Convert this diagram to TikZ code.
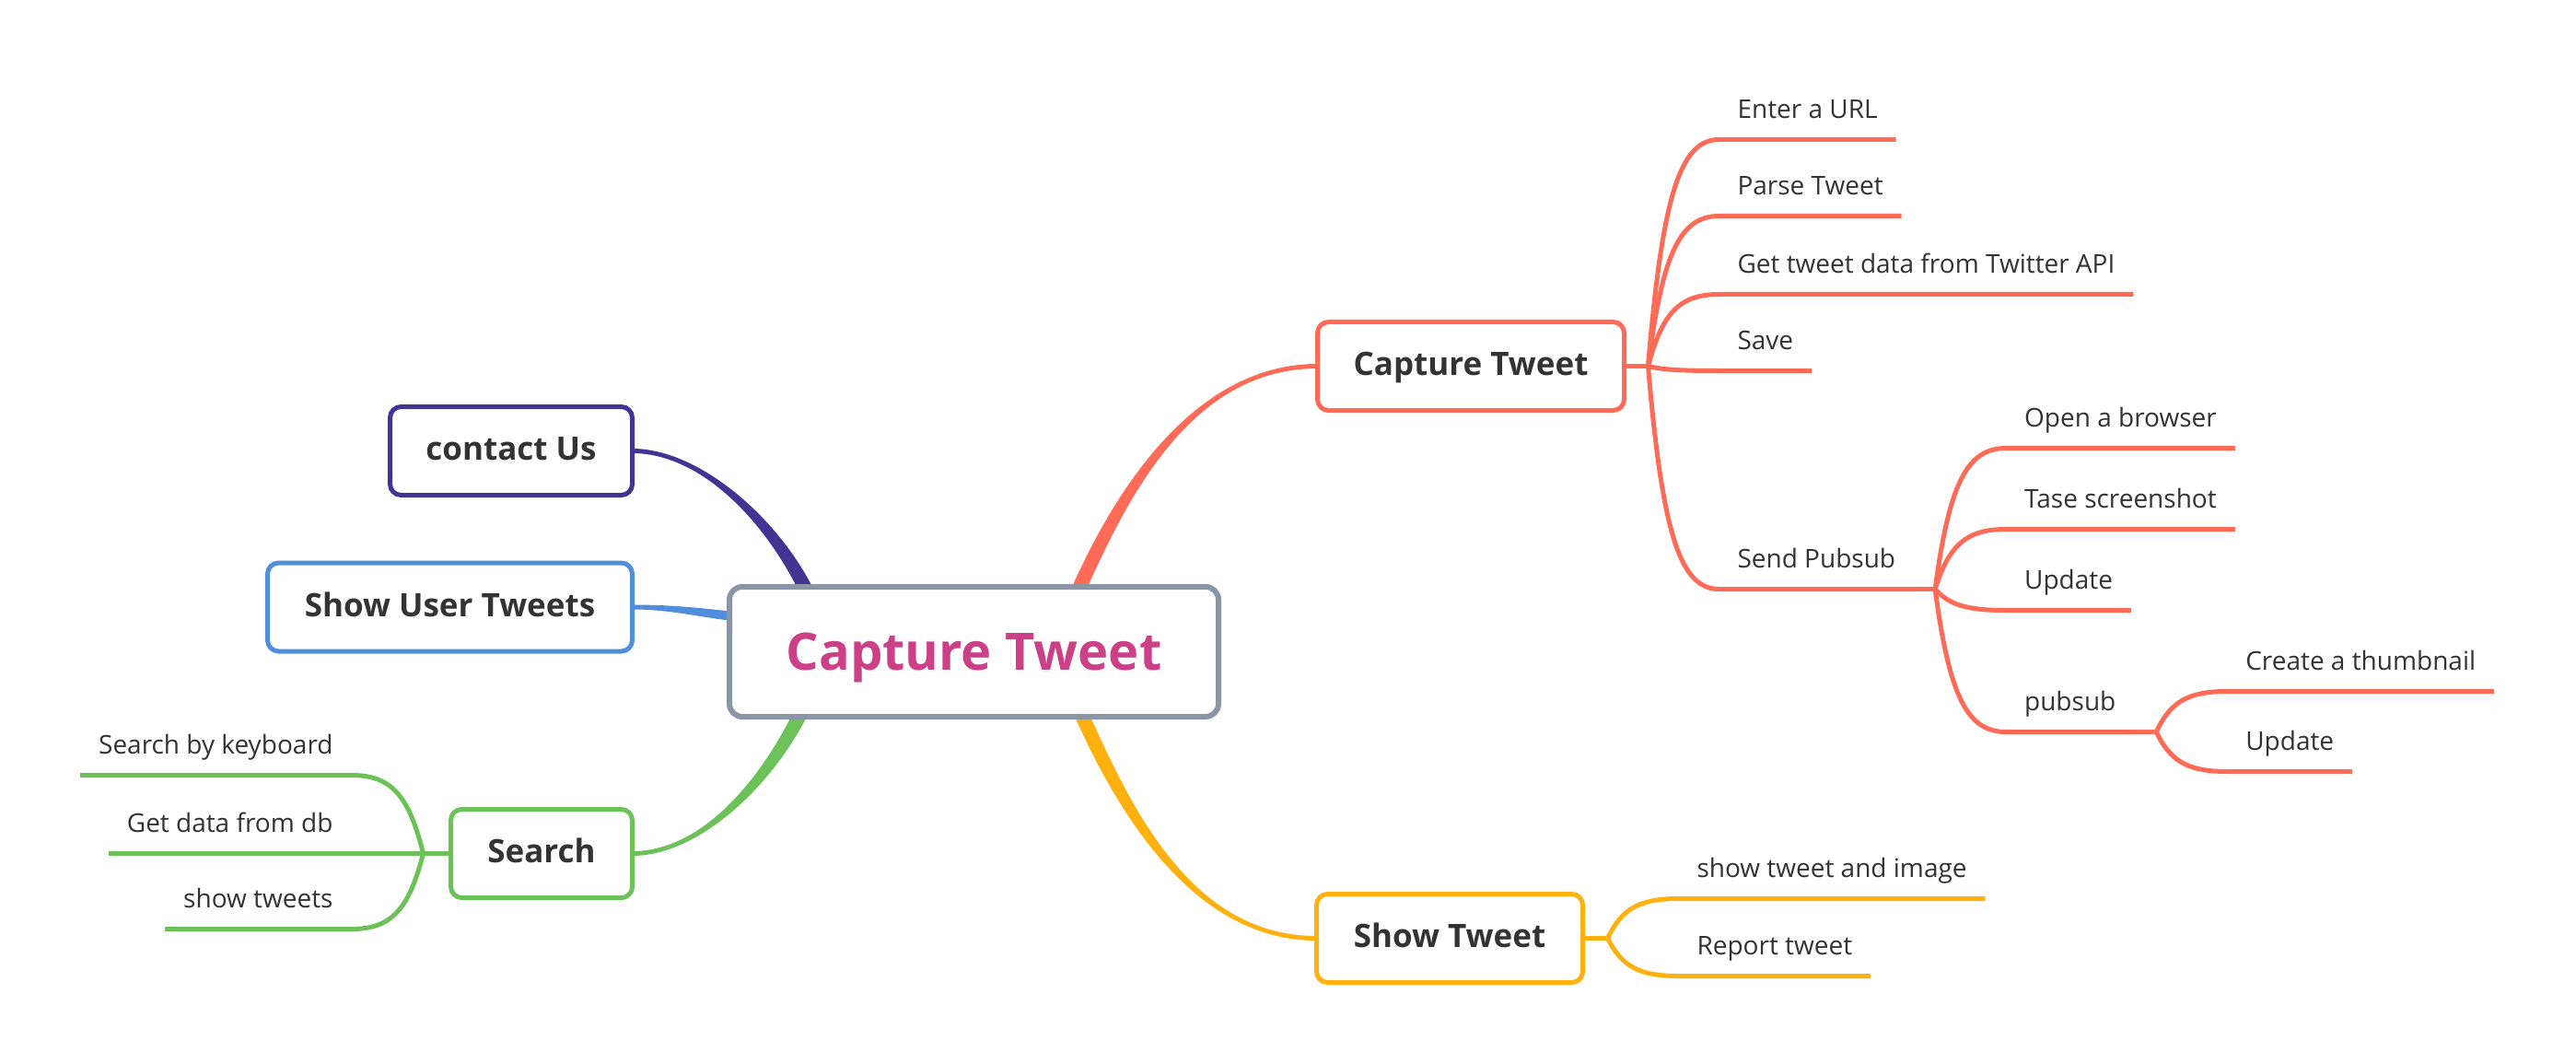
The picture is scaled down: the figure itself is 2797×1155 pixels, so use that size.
\documentclass[tikz,border=0pt]{standalone}
\usepackage{fontspec}
\setmainfont{Open Sans}
\usetikzlibrary{calc}
\pgfdeclarelayer{bg}
\pgfsetlayers{bg,main}
\definecolor{cSal}{HTML}{FF6B57}
\definecolor{cGold}{HTML}{FFB20F}
\definecolor{cPurp}{HTML}{433494}
\definecolor{cBlue}{HTML}{508DDA}
\definecolor{cGreen}{HTML}{6CC259}
\definecolor{cGray}{HTML}{8A96A6}
\definecolor{cMag}{HTML}{CB4087}
\definecolor{cText}{HTML}{333333}
\tikzset{
  branch/.style={to path={let \p1=(\tikztostart), \p2=(\tikztotarget) in
     .. controls ({\x1+0.2*(\x2-\x1)},{\y1+0.75*(\y2-\y1)}) and ({\x2-0.55*(\x2-\x1)},{\y2}) .. (\tikztotarget)}},
  topicbox/.style={draw, rounded corners=12pt, fill=white, line width=5pt, minimum height=96pt,
     inner sep=0pt, outer sep=0pt, text=cText, font=\fontsize{35}{42}\selectfont\bfseries,
     text height=20pt, text depth=0pt},
  mainbox/.style={draw=cGray, rounded corners=14pt, fill=white, line width=6pt, minimum width=531pt,
     minimum height=141pt, inner sep=0pt, outer sep=0pt, text=cMag,
     font=\fontsize{56}{66}\selectfont\bfseries, text height=40pt, text depth=0pt},
  leaf/.style={inner xsep=20pt, inner ysep=0pt, outer sep=0pt, text=cText,
     font=\fontsize{28}{34}\selectfont, text depth=0pt},
  ln/.style={line width=5pt}
}
\newcommand\leafR[5]{%
  \node[leaf, anchor=base west] (#1) at ($(#2)+(77,#3-23)$) {#5};
  \coordinate (#1s) at ($(#1.base west)+(0,23)$);
  \coordinate (#1e) at ($(#1.base east)+(0,23)$);
  \begin{pgfonlayer}{bg}
  \draw[ln,#4] (#2) to[branch] (#1s) -- (#1e);
  \end{pgfonlayer}}
\newcommand\leafL[5]{%
  \node[leaf, anchor=base east] (#1) at ($(#2)+(-78,#3-23)$) {#5};
  \coordinate (#1s) at ($(#1.base west)+(0,23)$);
  \coordinate (#1e) at ($(#1.base east)+(0,23)$);
  \begin{pgfonlayer}{bg}
  \draw[ln,#4] (#2) to[branch] (#1e) -- (#1s);
  \end{pgfonlayer}}
\begin{document}
\begin{tikzpicture}[x=1pt,y=-1pt]
\begin{pgfonlayer}{bg}
\fill[white] (0,0) rectangle (2797,1155);
\end{pgfonlayer}
\useasboundingbox (0,0) rectangle (2797,1155);

% boxes
\node[mainbox] (main) at (1057.5,707.5) {Capture Tweet};
\node[topicbox, draw=cSal, minimum width=333pt] (capture) at (1597,397.5) {Capture Tweet};
\node[topicbox, draw=cGold, minimum width=289pt] (showt) at (1574,1018.5) {Show Tweet};
\node[topicbox, draw=cPurp, minimum width=263pt] (contact) at (555,489.5) {contact Us};
\node[topicbox, draw=cBlue, minimum width=396pt] (sut) at (488.5,659) {Show User Tweets};
\node[topicbox, draw=cGreen, minimum width=197pt] (search) at (588,926.5) {Search};

% main tapered connectors
\coordinate (sA) at ($(main.north)+(115,0)$);
\coordinate (sB) at ($(main.south)+(118,0)$);
\coordinate (sC) at ($(main.north)+(-184,0)$);
\coordinate (sD) at ($(main.west)+(0,-39)$);
\coordinate (sE) at ($(main.south)+(-190,0)$);
\begin{pgfonlayer}{bg}
\fill[cSal] ($(sA)+(-8.5,0)$) .. controls ($(sA)+(41.5,-112)$) and ($(capture.west)+(-130,-2.5)$) .. ($(capture.west)+(0,-2.5)$)
  -- ($(capture.west)+(0,2.5)$) .. controls ($(capture.west)+(-130,2.5)$) and ($(sA)+(58.5,-112)$) .. ($(sA)+(8.5,0)$) -- cycle;
\fill[cGold] ($(sB)+(-8.5,0)$) .. controls ($(sB)+(41.5,112)$) and ($(showt.west)+(-130,2.5)$) .. ($(showt.west)+(0,2.5)$)
  -- ($(showt.west)+(0,-2.5)$) .. controls ($(showt.west)+(-130,-2.5)$) and ($(sB)+(58.5,112)$) .. ($(sB)+(8.5,0)$) -- cycle;
\fill[cPurp] ($(sC)+(-8.5,0)$) .. controls ($(sC)+(-48.5,-78)$) and ($(contact.east)+(71,2.5)$) .. ($(contact.east)+(0,2.5)$)
  -- ($(contact.east)+(0,-2.5)$) .. controls ($(contact.east)+(71,-2.5)$) and ($(sC)+(-31.5,-78)$) .. ($(sC)+(8.5,0)$) -- cycle;
\fill[cGreen] ($(sE)+(-8.5,0)$) .. controls ($(sE)+(-48.5,78)$) and ($(search.east)+(71,-2.5)$) .. ($(search.east)+(0,-2.5)$)
  -- ($(search.east)+(0,2.5)$) .. controls ($(search.east)+(71,2.5)$) and ($(sE)+(-31.5,78)$) .. ($(sE)+(8.5,0)$) -- cycle;
\fill[cBlue] ($(sD)+(0,-5)$) .. controls ($(sD)+(-35,-9)$) and ($(sut.east)+(40,-2.5)$) .. ($(sut.east)+(0,-2.5)$)
  -- ($(sut.east)+(0,2.5)$) .. controls ($(sut.east)+(40,2.5)$) and ($(sD)+(-35,1)$) .. ($(sD)+(0,5)$) -- cycle;
\end{pgfonlayer}

% Capture Tweet branch
\coordinate (J1) at ($(capture.east)+(26,0)$);
\begin{pgfonlayer}{bg}
\draw[ln,cSal] (capture.east) -- (J1);
\fill[cSal] (J1) circle (2.5pt);
\end{pgfonlayer}
\leafR{enter}{J1}{-246}{cSal}{Enter a URL}
\leafR{parse}{J1}{-163}{cSal}{Parse Tweet}
\leafR{gettw}{J1}{-78}{cSal}{Get tweet data from Twitter API}
\leafR{save}{J1}{5}{cSal}{Save}
\leafR{sendp}{J1}{242}{cSal}{Send Pubsub}
\coordinate (J2) at ($(sendpe)+(23,0)$);
\begin{pgfonlayer}{bg}
\draw[ln,cSal] (sendpe) -- (J2);
\fill[cSal] (J2) circle (2.5pt);
\end{pgfonlayer}
\leafR{browser}{J2}{-153}{cSal}{Open a browser}
\leafR{tase}{J2}{-65}{cSal}{Tase screenshot}
\leafR{updA}{J2}{23}{cSal}{Update}
\leafR{pubs}{J2}{155}{cSal}{pubsub}
\coordinate (J3) at ($(pubse)+(24,0)$);
\begin{pgfonlayer}{bg}
\draw[ln,cSal] (pubse) -- (J3);
\fill[cSal] (J3) circle (2.5pt);
\end{pgfonlayer}
\leafR{thumb}{J3}{-44}{cSal}{Create a thumbnail}
\leafR{updB}{J3}{43}{cSal}{Update}

% Show Tweet branch
\coordinate (J4) at ($(showt.east)+(27,0)$);
\begin{pgfonlayer}{bg}
\draw[ln,cGold] (showt.east) -- (J4);
\fill[cGold] (J4) circle (2.5pt);
\end{pgfonlayer}
\leafR{showimg}{J4}{-43}{cGold}{show tweet and image}
\leafR{report}{J4}{41}{cGold}{Report tweet}

% Search branch
\coordinate (J5) at ($(search.west)+(-30,0)$);
\begin{pgfonlayer}{bg}
\draw[ln,cGreen] (search.west) -- (J5);
\fill[cGreen] (J5) circle (2.5pt);
\end{pgfonlayer}
\leafL{kbd}{J5}{-85}{cGreen}{Search by keyboard}
\leafL{getdb}{J5}{0}{cGreen}{Get data from db}
\leafL{showtw}{J5}{82}{cGreen}{show tweets}
\end{tikzpicture}
\end{document}
